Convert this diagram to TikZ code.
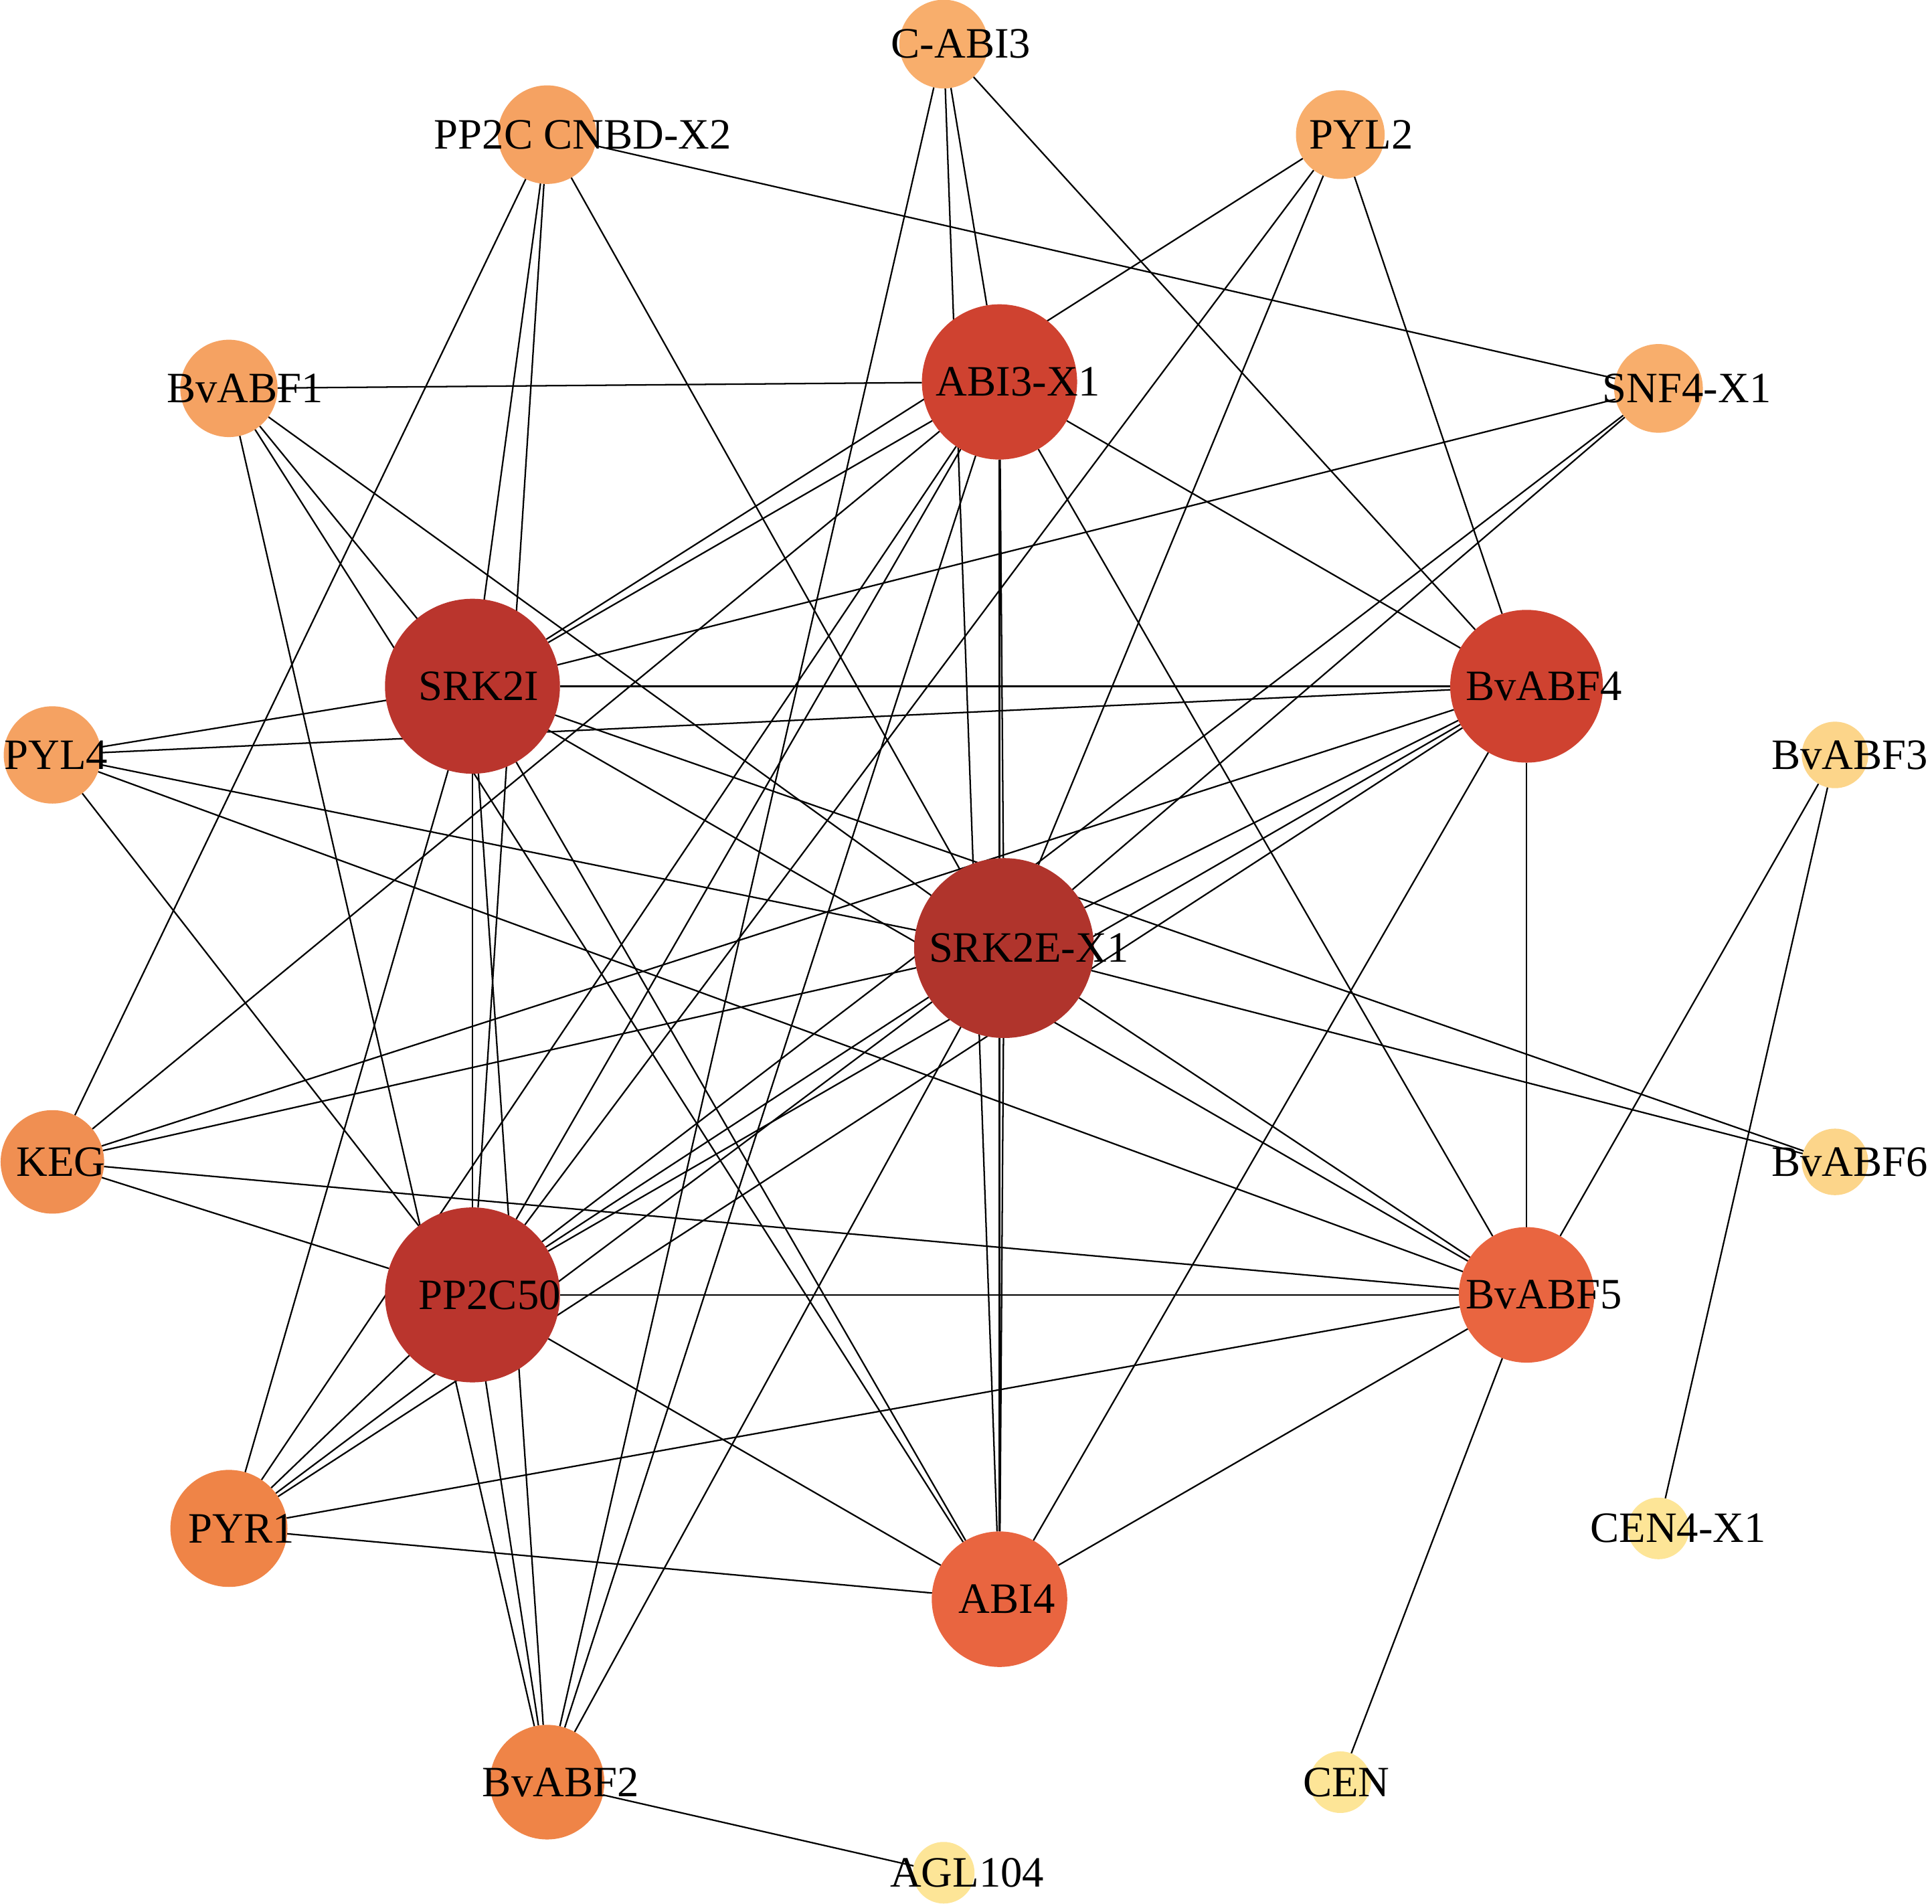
\documentclass[tikz,border=0pt]{standalone}
\usepackage{fontspec}
\setmainfont{Liberation Serif}
\usetikzlibrary{backgrounds}
\definecolor{deg15}{HTML}{B0342C}
\definecolor{deg14}{HTML}{BA352D}
\definecolor{deg11}{HTML}{CF4230}
\definecolor{deg9}{HTML}{E96540}
\definecolor{deg7}{HTML}{EF8447}
\definecolor{deg6}{HTML}{F08F52}
\definecolor{deg5}{HTML}{F5A262}
\definecolor{deg4}{HTML}{F8AE6C}
\definecolor{deg2}{HTML}{FCD58A}
\definecolor{deg1}{HTML}{FDE597}
\tikzset{
gene/.style={circle,inner sep=0pt,outer sep=0pt,minimum size=#1},
tag/.style={inner sep=0pt,text=black,font=\fontsize{10}{12}\selectfont},
link/.style={line width=0.35pt,black}}

\begin{document}
\begin{tikzpicture}
\useasboundingbox (-7.66,-7.673) rectangle (8.022,7.779);

% outer ring
\node[gene=0.72cm,fill=deg4] (cabi3)  at (90:7.421) {};
\node[gene=0.72cm,fill=deg4] (pyl2)   at (64.29:7.421) {};
\node[gene=0.72cm,fill=deg4] (snf4)   at (38.57:7.421) {};
\node[gene=0.54cm,fill=deg2] (bvabf3) at (12.86:7.421) {};
\node[gene=0.54cm,fill=deg2] (bvabf6) at (-12.86:7.421) {};
\node[gene=0.50cm,fill=deg1] (cen4)   at (-38.57:7.421) {};
\node[gene=0.50cm,fill=deg1] (cen)    at (-64.29:7.421) {};
\node[gene=0.50cm,fill=deg1] (agl104) at (-90:7.421) {};
\node[gene=0.93cm,fill=deg7] (bvabf2) at (-115.71:7.421) {};
\node[gene=0.95cm,fill=deg7] (pyr1)   at (-141.43:7.421) {};
\node[gene=0.84cm,fill=deg6] (keg)    at (-167.14:7.421) {};
\node[gene=0.79cm,fill=deg5] (pyl4)   at (167.14:7.421) {};
\node[gene=0.79cm,fill=deg5] (bvabf1) at (141.43:7.421) {};
\node[gene=0.80cm,fill=deg5] (cnbd)   at (115.71:7.421) {};

% inner ring
\node[gene=1.26cm,fill=deg11] (abi3)   at (0.453,4.679) {};
\node[gene=1.24cm,fill=deg11] (bvabf4) at (4.731,2.209) {};
\node[gene=1.10cm,fill=deg9]  (bvabf5) at (4.731,-2.731) {};
\node[gene=1.10cm,fill=deg9]  (abi4)   at (0.453,-5.201) {};
\node[gene=1.42cm,fill=deg14] (pp2c50) at (-3.825,-2.731) {};
\node[gene=1.42cm,fill=deg14] (srk2i)  at (-3.825,2.209) {};
\node[gene=1.46cm,fill=deg15] (srk2e)  at (0.49,0.084) {};

% labels
\node[tag] (cabi3-t)  at ([xshift=1.4mm]cabi3)  {C-ABI3};
\node[tag] (pyl2-t)   at ([xshift=1.7mm]pyl2)   {PYL2};
\node[tag] (snf4-t)   at ([xshift=2.3mm]snf4)   {SNF4-X1};
\node[tag] (bvabf3-t) at ([xshift=1.2mm]bvabf3) {BvABF3};
\node[tag] (bvabf6-t) at ([xshift=1.2mm]bvabf6) {BvABF6};
\node[tag] (cen4-t)   at ([xshift=1.6mm]cen4)   {CEN4-X1};
\node[tag] (cen-t)    at ([xshift=0.5mm]cen)    {CEN};
\node[tag] (agl104-t) at ([xshift=1.9mm]agl104) {AGL104};
\node[tag] (bvabf2-t) at ([xshift=1.1mm]bvabf2) {BvABF2};
\node[tag] (pyr1-t)   at ([xshift=1.0mm]pyr1)   {PYR1};
\node[tag] (keg-t)    at ([xshift=0.7mm]keg)    {KEG};
\node[tag] (pyl4-t)   at ([xshift=0.3mm]pyl4)   {PYL4};
\node[tag] (bvabf1-t) at ([xshift=1.3mm]bvabf1) {BvABF1};
\node[tag] (cnbd-t)   at ([xshift=2.9mm]cnbd)   {PP2C CNBD-X2};
\node[tag] (abi3-t)   at ([xshift=1.5mm]abi3)   {ABI3-X1};
\node[tag] (bvabf4-t) at ([xshift=1.4mm]bvabf4) {BvABF4};
\node[tag] (bvabf5-t) at ([xshift=1.4mm]bvabf5) {BvABF5};
\node[tag] (abi4-t)   at ([xshift=0.6mm]abi4)   {ABI4};
\node[tag] (pp2c50-t) at ([xshift=1.4mm]pp2c50) {PP2C50};
\node[tag] (srk2i-t)  at ([xshift=0.5mm]srk2i)  {SRK2I};
\node[tag] (srk2e-t)  at ([xshift=2.0mm]srk2e)  {SRK2E-X1};

% interactions
\begin{scope}[on background layer]
\path[link] (cabi3) edge (abi3) edge (abi4) edge (bvabf2) edge (bvabf4);
\path[link] (cnbd) edge (snf4) edge (keg) edge (srk2i) edge (pp2c50) edge (srk2e);
\path[link] (pyl2) edge (srk2i) edge (pp2c50) edge (srk2e) edge (bvabf4);
\path[link] (bvabf1) edge (abi3) edge (bvabf2) edge (abi4) edge (srk2i) edge (srk2e);
\path[link] (snf4) edge (srk2i) edge (srk2e) edge (pp2c50);
\path[link] (pyl4) edge (srk2i) edge (bvabf4) edge (srk2e) edge (bvabf5) edge (pp2c50);
\path[link] (keg) edge (abi3) edge (bvabf4) edge (srk2e) edge (bvabf5) edge (pp2c50);
\path[link] (bvabf3) edge (bvabf5) edge (cen4);
\path[link] (bvabf6) edge (srk2i) edge (srk2e);
\path[link] (cen) edge (bvabf5);
\path[link] (agl104) edge (bvabf2);
\path[link] (pyr1) edge (srk2i) edge (abi3) edge (pp2c50) edge (srk2e) edge (bvabf4) edge (bvabf5) edge (abi4);
\path[link] (bvabf2) edge (srk2i) edge (pp2c50) edge (abi3) edge (srk2e);
\path[link] (srk2i) edge (abi3) edge (bvabf4) edge (pp2c50) edge (abi4) edge (bvabf5);
\path[link] (abi3) edge (bvabf4) edge (srk2e) edge (abi4) edge (bvabf5) edge (pp2c50);
\path[link] (srk2e) edge (bvabf4) edge (abi4) edge (bvabf5) edge (pp2c50);
\path[link] (bvabf4) edge (bvabf5) edge (abi4) edge (pp2c50);
\path[link] (bvabf5) edge (pp2c50) edge (abi4);
\path[link] (pp2c50) edge (abi4);
\end{scope}

\end{tikzpicture}
\end{document}
